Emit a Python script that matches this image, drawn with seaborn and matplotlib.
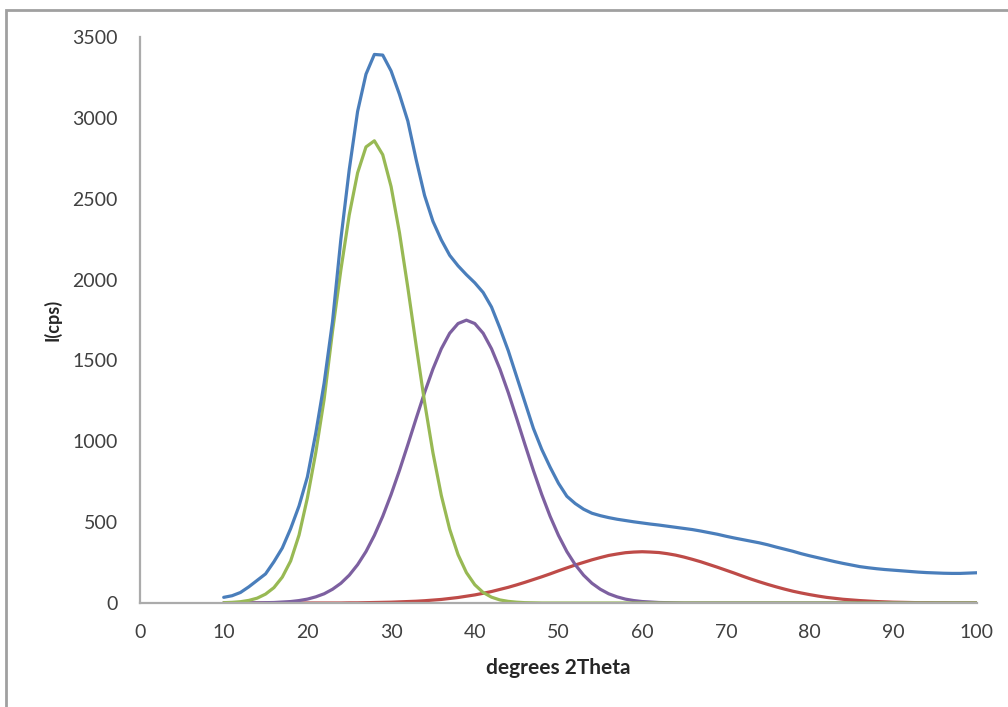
import numpy as np
import pandas as pd
import matplotlib
matplotlib.use("Agg")
import matplotlib.pyplot as plt
from matplotlib.patches import Rectangle
import seaborn as sns

# 2Theta positions (degrees), one reading per degree
theta = list(range(10, 101))

# measured pattern (blue)
measured = [
    35, 45, 65, 100, 140, 180, 255, 340, 460, 600,
    780, 1050, 1360, 1740, 2250, 2680, 3040, 3270, 3392, 3388,
    3290, 3145, 2980, 2740, 2520, 2360, 2245, 2150, 2085, 2030,
    1980, 1920, 1830, 1700, 1560, 1400, 1240, 1080, 950, 840,
    740, 660, 615, 580, 555, 540, 528, 518, 510, 502,
    495, 488, 482, 475, 468, 461, 454, 445, 435, 425,
    413, 402, 392, 382, 372, 360, 346, 333, 320, 305,
    292, 280, 268, 256, 245, 235, 225, 218, 212, 207,
    203, 199, 195, 191, 188, 186, 184, 183, 183, 185,
    187,
]

# fitted component peaks
peak_green = [
    2, 4, 8, 16, 30, 55, 95, 160, 260, 420,
    650, 930, 1260, 1680, 2060, 2400, 2660, 2820, 2858, 2772,
    2575, 2290, 1950, 1590, 1242, 929, 665, 456, 299, 188,
    113, 65, 36, 19, 10, 5, 2, 1, 0, 0,
] + [0] * 51

peak_purple = [
    0, 0, 0, 1, 1, 2, 3, 6, 9, 15,
    24, 38, 57, 85, 122, 172, 237, 318, 418, 536,
    671, 820, 979, 1142, 1301, 1447, 1572, 1668, 1728, 1749,
    1728, 1668, 1572, 1447, 1301, 1142, 979, 820, 671, 536,
    418, 318, 237, 172, 122, 85, 57, 38, 24, 15,
    9, 6, 3, 2, 1,
] + [0] * 36

peak_red = [
    0, 0, 0, 0, 0, 0, 0, 0, 0, 0,
    0, 0, 0, 0, 0, 1, 1, 2, 3, 4,
    5, 7, 9, 11, 14, 18, 22, 28, 34, 42,
    50, 60, 71, 84, 97, 112, 128, 145, 162, 180,
    199, 217, 235, 251, 267, 281, 294, 303, 311, 315,
    317, 315, 312, 305, 296, 284, 270, 255, 238, 221,
    203, 185, 166, 148, 131, 115, 100, 86, 73, 62,
    52, 43, 35, 29, 23, 19, 15, 12, 9, 7,
    5, 4, 3, 2, 2, 1, 1, 0, 0, 0,
    0,
]

series_names = ["measured", "peak 1", "peak 2", "peak 3"]
series_colors = ["#4A7EBB", "#98B954", "#7D60A0", "#BE4B48"]

x_ticks = list(range(0, 101, 10))
y_ticks = list(range(0, 3501, 500))

df = pd.DataFrame({
    "theta": theta * 4,
    "intensity": measured + peak_green + peak_purple + peak_red,
    "series": [name for name in series_names for _ in theta],
})

sns.set_theme(style="white")
plt.rcParams["font.family"] = ["Lato", "DejaVu Sans"]

fig = plt.figure(figsize=(10.08, 7.07), dpi=100)
ax = fig.add_axes([0.1389, 0.1471, 0.8303, 0.8006])

# draw component peaks first, measured curve on top
draw_order = ["peak 3", "peak 2", "peak 1", "measured"]
for name in draw_order:
    color = series_colors[series_names.index(name)]
    sns.lineplot(data=df[df["series"] == name], x="theta", y="intensity",
                 color=color, linewidth=2.3, ax=ax)

ax.set_xlim(0, 100)
ax.set_ylim(0, 3500)
ax.set_xticks(x_ticks)
ax.set_yticks(y_ticks)
ax.tick_params(axis="both", length=0, labelsize=14, colors="#404040")
ax.tick_params(axis="x", pad=15)
ax.tick_params(axis="y", pad=16)

ax.set_xlabel("degrees 2Theta", fontsize=15, fontweight="bold", labelpad=12)
ax.set_ylabel("I(cps)", fontsize=13, fontweight="bold", labelpad=8)

for side in ["top", "right"]:
    ax.spines[side].set_visible(False)
for side in ["left", "bottom"]:
    ax.spines[side].set_color("#ababab")
    ax.spines[side].set_linewidth(1.6)

# chart frame (cropped on the right and bottom in the original)
fig.patches.append(Rectangle((6 / 1008, -0.05), 1.1, 1 - 10 / 707 + 0.05,
                             transform=fig.transFigure, fill=False,
                             edgecolor="#a0a0a0", linewidth=2))

fig.savefig("out.png", dpi=100)
plt.close(fig)
